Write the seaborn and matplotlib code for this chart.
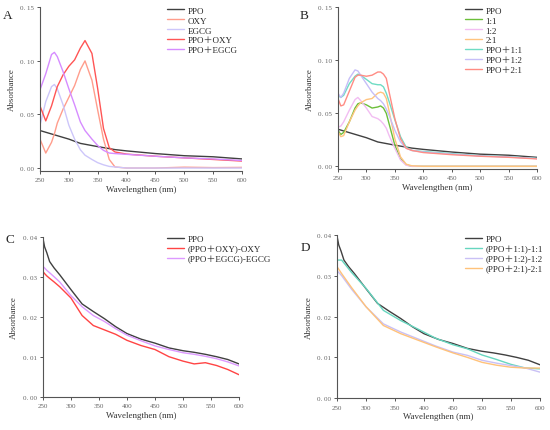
import seaborn as sns
import matplotlib
matplotlib.use('Agg')
import matplotlib.pyplot as plt
from matplotlib.ticker import FuncFormatter

# ---- data ----
wl_ppo = [250, 275, 300, 320, 350, 380, 400, 450, 500, 550, 600]
ppo_ab = [0.035, 0.031, 0.027, 0.023, 0.020, 0.0172, 0.016, 0.0135, 0.0115, 0.0105, 0.0085]

wl_a = [250, 260, 270, 275, 280, 290, 300, 310, 320, 328, 340, 350, 360, 370, 380, 400, 450, 500, 550, 600]
oxy = [0.027, 0.014, 0.024, 0.032, 0.042, 0.055, 0.066, 0.077, 0.092, 0.100, 0.082, 0.054, 0.027, 0.008,
       0.001, 0.0, 0.0, 0.0008, 0.0004, 0.0006]
egcg = [0.040, 0.062, 0.076, 0.078, 0.074, 0.059, 0.040, 0.027, 0.017, 0.012, 0.008, 0.005, 0.003, 0.0015,
        0.001, 0.0, 0.0, 0.0, 0.0, 0.0]
ppo_oxy = [0.058, 0.044, 0.058, 0.067, 0.076, 0.087, 0.095, 0.101, 0.112, 0.119, 0.107, 0.074, 0.037, 0.019,
           0.015, 0.013, 0.011, 0.0095, 0.008, 0.0065]
ppo_egcg = [0.073, 0.088, 0.106, 0.108, 0.104, 0.090, 0.074, 0.059, 0.043, 0.035, 0.027, 0.021, 0.0165, 0.014,
            0.0135, 0.0128, 0.011, 0.0095, 0.0085, 0.007]

wl_b = [250, 255, 260, 270, 280, 285, 290, 300, 310, 320, 325, 330, 335, 340, 350, 360, 370, 380, 400, 450, 500, 550, 600]
mix_11 = [0.034, 0.030, 0.032, 0.042, 0.055, 0.059, 0.060, 0.058, 0.055, 0.056, 0.057, 0.055, 0.050, 0.040,
          0.020, 0.007, 0.0015, 0.0, 0.0, 0.0, 0.0, 0.0, 0.0]
mix_12 = [0.037, 0.038, 0.042, 0.053, 0.063, 0.065, 0.062, 0.055, 0.047, 0.045, 0.043, 0.040, 0.036, 0.029,
          0.017, 0.006, 0.001, 0.0, 0.0, 0.0, 0.0, 0.0, 0.0]
mix_21 = [0.033, 0.028, 0.029, 0.042, 0.053, 0.057, 0.060, 0.063, 0.064, 0.069, 0.070, 0.069, 0.064, 0.052,
          0.026, 0.009, 0.002, 0.0005, 0.0, 0.0, 0.0, 0.0, 0.0]
ppo_11 = [0.067, 0.065, 0.067, 0.078, 0.085, 0.087, 0.086, 0.082, 0.078, 0.077, 0.077, 0.075, 0.069, 0.061,
          0.044, 0.028, 0.018, 0.015, 0.014, 0.012, 0.010, 0.009, 0.0075]
ppo_12 = [0.069, 0.065, 0.069, 0.083, 0.091, 0.090, 0.086, 0.078, 0.070, 0.064, 0.062, 0.059, 0.054, 0.048,
          0.034, 0.023, 0.017, 0.015, 0.0135, 0.0115, 0.0098, 0.0088, 0.0073]
ppo_21 = [0.064, 0.057, 0.058, 0.071, 0.084, 0.086, 0.086, 0.085, 0.086, 0.089, 0.089, 0.087, 0.083, 0.070,
          0.045, 0.026, 0.017, 0.015, 0.013, 0.011, 0.0095, 0.0085, 0.007]

wl_c = [250, 253, 257, 262, 270, 280, 300, 320, 340, 360, 380, 400, 425, 450, 475, 500, 520, 540, 560, 580, 600]
ppo_cd = [0.0397, 0.0375, 0.036, 0.0338, 0.0322, 0.0305, 0.0268, 0.0232, 0.0213, 0.0195, 0.0175, 0.0158,
          0.0144, 0.0134, 0.0122, 0.0115, 0.0111, 0.0106, 0.0100, 0.0093, 0.0082]
diff_oxy = [0.0313, 0.0308, 0.0302, 0.0296, 0.0287, 0.0275, 0.0247, 0.0203, 0.0178, 0.0167, 0.0156, 0.0141,
            0.0128, 0.0118, 0.0100, 0.0089, 0.0082, 0.0085, 0.0078, 0.0068, 0.0055]
diff_egcg = [0.0326, 0.0322, 0.0316, 0.031, 0.0300, 0.0287, 0.0253, 0.0225, 0.0203, 0.0188, 0.0170, 0.0154,
             0.014, 0.0127, 0.0118, 0.0110, 0.0106, 0.0101, 0.0095, 0.0087, 0.0077]

wl_d = [250, 258, 275, 300, 330, 360, 390, 420, 450, 475, 500, 525, 550, 575, 600]
diff_11 = [0.0338, 0.0338, 0.0308, 0.0269, 0.0215, 0.0190, 0.0169, 0.0147, 0.0131, 0.0121, 0.0106, 0.0095,
           0.0083, 0.0074, 0.0072]
diff_12 = [0.0312, 0.0300, 0.0267, 0.0224, 0.0182, 0.0162, 0.0145, 0.0128, 0.0113, 0.0105, 0.0093, 0.0086,
           0.0080, 0.0074, 0.0064]
diff_21 = [0.0322, 0.0305, 0.0271, 0.0224, 0.0178, 0.0158, 0.0142, 0.0126, 0.0111, 0.0100, 0.0088, 0.0081,
           0.0076, 0.0074, 0.0074]

# ---- style ----
sns.set_style('ticks')
plt.rcParams['font.family'] = ['Liberation Serif', 'Noto Sans CJK SC', 'DejaVu Sans']
plt.rcParams['axes.edgecolor'] = '#555555'
plt.rcParams['xtick.color'] = '#555555'
plt.rcParams['ytick.color'] = '#555555'

dark = '#404040'
fig = plt.figure(figsize=(5.5, 4.31), dpi=100)


def fmt(v, pos):
    return f'{v:.2f}'.replace('.', '. ')


def setup_axis(ax, ymax, ymin, letter, lx, ly):
    ax.set_xlim(250, 600)
    ax.set_ylim(ymin, ymax)
    ax.set_xticks(range(250, 601, 50))
    ax.yaxis.set_major_formatter(FuncFormatter(fmt))
    ax.tick_params(labelsize=5, length=2.5, width=0.7, pad=2, labelcolor='#666666')
    ax.set_xlabel('Wavelengthen (nm)', fontsize=6.4, color='#333333', labelpad=2)
    ax.set_ylabel('Absorbance', fontsize=6.4, color='#333333', labelpad=3)
    sns.despine(ax=ax)
    for s in ax.spines.values():
        s.set_linewidth(0.8)
    fig.text(lx, ly, letter, fontsize=9.5, ha='left', va='center')


def add_legend(ax, x, y):
    ax.legend(loc='upper left', bbox_to_anchor=(x, y), bbox_transform=fig.transFigure, frameon=False,
              fontsize=6.5, handlelength=1.9, handletextpad=0.35, labelspacing=0.18, borderpad=0,
              borderaxespad=0)


def draw(ax, x, y, color, label):
    sns.lineplot(x=x, y=y, ax=ax, color=color, label=label, linewidth=1.0)


# A
ax = fig.add_axes([0.0727, 0.6016, 0.3673, 0.379])
draw(ax, wl_ppo, ppo_ab, dark, 'PPO')
draw(ax, wl_a, oxy, '#ff9d8c', 'OXY')
draw(ax, wl_a, egcg, '#cdc6fa', 'EGCG')
draw(ax, wl_a, ppo_oxy, '#ff5555', 'PPO＋OXY')
draw(ax, wl_a, ppo_egcg, '#d68cff', 'PPO＋EGCG')
ax.set_yticks([0, 0.05, 0.10, 0.15])
setup_axis(ax, 0.15, -0.0025, 'A', 0.006, 0.962)
add_legend(ax, 0.304, 0.983)

# B
ax = fig.add_axes([0.6145, 0.6056, 0.3618, 0.375])
draw(ax, wl_ppo, ppo_ab, dark, 'PPO')
draw(ax, wl_b, mix_11, '#6cbf3a', '1:1')
draw(ax, wl_b, mix_12, '#f2bdf2', '1:2')
draw(ax, wl_b, mix_21, '#ffc47f', '2:1')
draw(ax, wl_b, ppo_11, '#6fdcc4', 'PPO＋1:1')
draw(ax, wl_b, ppo_12, '#c6bef8', 'PPO＋1:2')
draw(ax, wl_b, ppo_21, '#ff8c84', 'PPO＋2:1')
ax.set_yticks([0, 0.05, 0.10, 0.15])
setup_axis(ax, 0.15, -0.0025, 'B', 0.545, 0.962)
add_legend(ax, 0.846, 0.983)

# C
ax = fig.add_axes([0.078, 0.0773, 0.3565, 0.371])
draw(ax, wl_c, ppo_cd, dark, 'PPO')
draw(ax, wl_c, diff_oxy, '#ff4444', '(PPO＋OXY)-OXY')
draw(ax, wl_c, diff_egcg, '#dd99ff', '(PPO＋EGCG)-EGCG')
ax.set_yticks([0, 0.01, 0.02, 0.03, 0.04])
setup_axis(ax, 0.04, 0, 'C', 0.01, 0.443)
add_legend(ax, 0.304, 0.453)

# D
ax = fig.add_axes([0.6127, 0.0735, 0.3691, 0.3796])
draw(ax, wl_c, ppo_cd, dark, 'PPO')
draw(ax, wl_d, diff_11, '#66d6bf', '(PPO＋1:1)-1:1')
draw(ax, wl_d, diff_12, '#c9c0f5', '(PPO＋1:2)-1:2')
draw(ax, wl_d, diff_21, '#ffc27a', '(PPO＋2:1)-2:1')
ax.set_yticks([0, 0.01, 0.02, 0.03, 0.04])
setup_axis(ax, 0.04, 0, 'D', 0.546, 0.425)
add_legend(ax, 0.846, 0.453)

fig.savefig('out.png', dpi=100)
